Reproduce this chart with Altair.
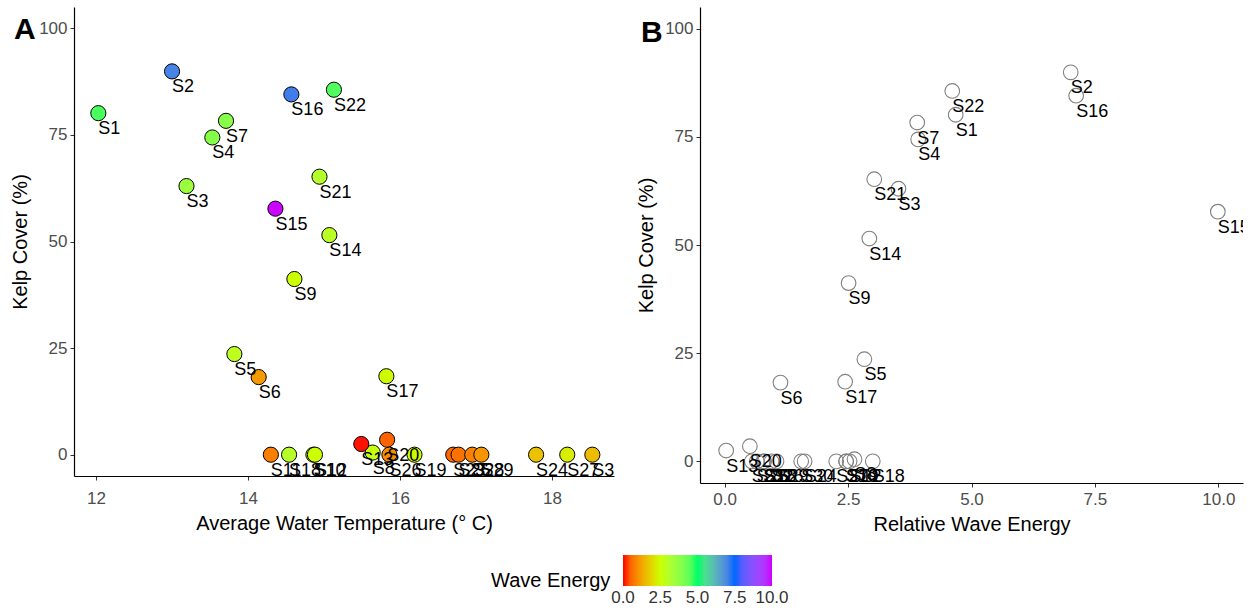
import altair as alt
import pandas as pd

sites = [f"S{i}" for i in range(1, 31)]
temperature = [12.03, 13.00, 13.19, 13.53, 13.82, 14.14, 13.71, 15.64, 14.61, 14.86,
               14.30, 14.88, 15.49, 15.07, 14.36, 14.57, 15.82, 14.54, 16.19, 15.83,
               14.94, 15.13, 16.70, 17.79, 16.77, 15.86, 18.20, 16.95, 17.07, 18.53]
kelp = [80.1, 89.9, 63.0, 74.4, 23.6, 18.2, 78.3, 0.5, 41.2, 0.0,
        0.0, 0.0, 2.5, 51.5, 57.7, 84.5, 18.4, 0.0, 0.0, 3.5,
        65.2, 85.6, 0.0, 0.0, 0.0, 0.0, 0.0, 0.0, 0.0, 0.0]
wave = [4.68, 7.01, 3.52, 3.92, 2.83, 1.13, 3.90, 2.63, 2.51, 2.46,
        0.78, 2.53, 0.03, 2.93, 9.99, 7.12, 2.44, 3.00, 2.46, 0.51,
        3.03, 4.61, 0.55, 1.62, 0.65, 0.95, 2.26, 0.80, 1.05, 1.55]

color_stops = [0, 2.5, 5, 7.5, 10]
color_range = ["#FF0000", "#CCFF00", "#00FF66", "#0066FF", "#CC00FF"]
legend_values = [0.0001, 2.5, 5, 7.5, 9.9999]

df = pd.DataFrame({"site": sites, "temperature": temperature, "kelp": kelp, "wave": wave})

FONT = "Liberation Sans"

yenc = alt.Y("kelp:Q", scale=alt.Scale(domain=[-5, 105], nice=False, zero=False),
             axis=alt.Axis(values=[0, 25, 50, 75, 100], title="Kelp Cover (%)"))

# Panel A
xa = alt.X("temperature:Q", scale=alt.Scale(domain=[11.71, 18.815], nice=False, zero=False),
           axis=alt.Axis(values=[12, 14, 16, 18], title="Average Water Temperature (° C)",
                         labelPadding=10))
baseA = alt.Chart(df).encode(x=xa, y=yenc)
ptsA = baseA.mark_circle(size=230, opacity=1, stroke="black", strokeWidth=1).encode(
    color=alt.Color("wave:Q",
                    scale=alt.Scale(domain=color_stops, range=color_range, interpolate="lab"),
                    legend=alt.Legend(title="Wave Energy", orient="none", direction="horizontal",
                                      legendX=417, legendY=548, titleOrient="left",
                                      values=legend_values, format=".1f",
                                      labelOverlap=False, labelAlign="center",
                                      gradientLength=149, gradientThickness=31,
                                      gradientStrokeWidth=0, titleFontSize=20,
                                      titleFontWeight="normal", titleFont=FONT,
                                      labelFont=FONT, labelFontSize=17, labelColor="#333333",
                                      titleColor="black", titleBaseline="top",
                                      titlePadding=12, labelOffset=4))
)
txtA = baseA.mark_text(align="left", baseline="alphabetic", dx=0, dy=21, fontSize=18,
                       font=FONT, color="black", clip=True).encode(text="site:N")
letterA = alt.Chart(pd.DataFrame({"t": ["A"]})).mark_text(
    align="left", baseline="alphabetic", fontSize=30, fontWeight="bold", font=FONT, color="black"
).encode(x=alt.value(-60), y=alt.value(32), text="t:N")
panelA = alt.layer(ptsA, txtA, letterA).properties(width=540, height=469)

# Panel B
xb = alt.X("wave:Q", scale=alt.Scale(domain=[-0.5, 10.5], nice=False, zero=False),
           axis=alt.Axis(values=[0, 2.5, 5, 7.5, 10], format=".1f", title="Relative Wave Energy",
                         labelPadding=4))
baseB = alt.Chart(df).encode(x=xb, y=yenc)
ptsB = baseB.mark_point(shape="circle", filled=False, size=215, opacity=1,
                        color="#808080", strokeWidth=1.1)
txtB = baseB.mark_text(align="left", baseline="alphabetic", dx=0, dy=21, fontSize=18,
                       font=FONT, color="black", clip=True).encode(text="site:N")
letterB = alt.Chart(pd.DataFrame({"t": ["B"]})).mark_text(
    align="left", baseline="alphabetic", fontSize=30, fontWeight="bold", font=FONT, color="black"
).encode(x=alt.value(-59), y=alt.value(35), text="t:N")
panelB = alt.layer(ptsB, txtB, letterB).properties(width=543, height=476)

chart = alt.hconcat(panelA, panelB, spacing=22).properties(
    padding={"left": 10, "top": 7, "right": 5, "bottom": 5}
).configure_view(stroke=None).configure_axis(
    grid=False, domainColor="black", domainWidth=1.2, tickColor="#333333", tickSize=4,
    labelFont=FONT, labelFontSize=17, labelColor="#4d4d4d", titleFont=FONT,
    titleFontSize=20, titleFontWeight="normal", titleColor="black"
).configure_axisY(labelPadding=3, titlePadding=8).configure_axisX(titlePadding=7)

chart.save("out.html", embed_options={"renderer": "svg", "actions": False})
